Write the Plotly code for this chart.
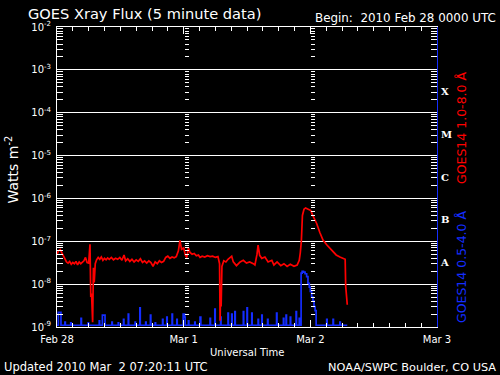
import plotly.graph_objects as go
import pandas as pd

# ---------------- data (hours after 2010-02-28 00:00 UTC, flux in W/m^2) ----------------
red_hours = [0.0, 0.3, 0.6, 0.9, 1.2, 1.5, 1.8, 2.1, 2.4, 2.7, 3.0, 3.3, 3.6, 3.9, 4.2, 4.5, 4.8,
             5.1, 5.4, 5.7, 6.0, 6.25, 6.4, 6.55, 6.75, 6.9, 7.05, 7.25, 7.5, 7.8, 8.1, 8.4, 8.7,
             9.0, 9.3, 9.6, 9.9, 10.3, 10.7, 11.1, 11.5, 11.9, 12.3, 12.7, 13.0, 13.4, 13.8, 14.2,
             14.6, 15.0, 15.4, 15.8, 16.2, 16.6, 17.0, 17.4, 17.8, 18.2, 18.6, 19.0, 19.4, 19.8,
             20.2, 20.6, 21.0, 21.4, 21.8, 22.2, 22.6, 23.0, 23.3, 23.6, 24.0, 24.3, 24.6, 24.9,
             25.2, 25.6, 26.0, 26.4, 26.8, 27.1, 27.5, 28.0, 28.5, 29.0, 29.5, 30.0, 30.5, 30.8,
             30.9, 31.0, 31.1, 31.25, 31.6, 32.0, 32.4, 32.8, 33.1, 33.4, 34.0, 34.7, 35.3, 35.9,
             36.5, 37.2, 37.5, 37.9, 38.1, 38.4, 38.8, 39.4, 40.0, 40.7, 41.1, 41.7, 42.4, 43.0,
             43.6, 44.2, 44.9, 45.5, 45.9, 46.1, 46.3, 46.5, 46.8, 47.1, 47.6, 48.1, 48.5, 49.2,
             49.8, 50.4, 51.1, 51.7, 52.3, 52.9, 53.6, 54.2, 54.6, 54.7, 55.0]
red_flux = [5.0e-8, 6.0e-8, 6.4e-8, 5.4e-8, 4.3e-8, 3.6e-8, 3.3e-8, 3.1e-8, 3.4e-8, 2.9e-8, 3.2e-8,
            3.0e-8, 3.4e-8, 2.8e-8, 3.3e-8, 3.0e-8, 3.3e-8, 3.5e-8, 4.2e-8, 3.2e-8, 3.1e-8, 8.5e-8,
            5.0e-9, 6.0e-9, 1.3e-9, 2.4e-8, 1.1e-8, 3.0e-8, 3.7e-8, 4.2e-8, 3.8e-8, 4.3e-8, 3.6e-8,
            4.0e-8, 3.7e-8, 4.1e-8, 3.8e-8, 4.2e-8, 3.7e-8, 4.0e-8, 3.8e-8, 4.2e-8, 3.6e-8, 4.8e-8,
            3.5e-8, 3.9e-8, 3.4e-8, 3.8e-8, 3.3e-8, 3.7e-8, 3.4e-8, 3.9e-8, 3.2e-8, 3.5e-8, 3.1e-8,
            3.5e-8, 3.2e-8, 2.6e-8, 3.3e-8, 3.0e-8, 3.5e-8, 3.2e-8, 3.4e-8, 4.2e-8, 4.5e-8, 4.0e-8,
            4.3e-8, 4.1e-8, 4.4e-8, 6.0e-8, 1.05e-7, 6.5e-8, 7.0e-8, 4.8e-8, 4.2e-8, 7.0e-8, 5.5e-8,
            5.0e-8, 5.2e-8, 4.6e-8, 4.8e-8, 4.2e-8, 4.5e-8, 4.3e-8, 4.6e-8, 4.4e-8, 4.5e-8, 4.2e-8,
            4.4e-8, 3.0e-8, 1.4e-9, 6.0e-9, 3.0e-9, 2.6e-8, 3.5e-8, 3.3e-8, 3.8e-8, 4.3e-8, 4.5e-8,
            3.3e-8, 2.7e-8, 3.3e-8, 3.6e-8, 3.1e-8, 3.3e-8, 3.0e-8, 2.8e-8, 5.0e-8, 8.1e-8, 4.7e-8,
            4.0e-8, 4.3e-8, 3.3e-8, 3.6e-8, 2.8e-8, 3.3e-8, 2.7e-8, 3.0e-8, 2.6e-8, 2.9e-8, 2.6e-8,
            2.8e-8, 3.6e-8, 5.4e-8, 1.0e-7, 4.0e-7, 5.6e-7, 6.0e-7, 5.7e-7, 5.2e-7, 3.9e-7, 2.6e-7,
            1.6e-7, 1.07e-7, 8.3e-8, 6.8e-8, 5.6e-8, 4.8e-8, 4.3e-8, 4.0e-8, 3.8e-8, 9.0e-9, 3.3e-9]

blue_hours = [0.0, 0.25, 0.75, 1.5, 1.58, 2.6, 2.68, 4.55, 4.63, 5.9, 5.98, 8.0, 8.08, 8.6, 9.1,
              10.4, 10.48, 11.6, 11.68, 12.6, 12.68, 13.5, 13.58, 14.8, 14.88, 15.7, 15.78, 16.8,
              16.88, 17.7, 17.78, 18.6, 18.68, 20.0, 20.08, 20.8, 20.88, 21.8, 21.88, 22.7, 22.78,
              23.9, 24.2, 24.28, 24.9, 24.98, 26.1, 26.18, 27.1, 27.25, 29.0, 29.08, 29.9, 29.98,
              31.0, 31.08, 32.4, 32.48, 33.1, 33.18, 33.7, 33.78, 35.3, 35.38, 36.0, 36.08, 36.9,
              36.98, 38.1, 38.18, 38.8, 38.88, 39.9, 39.98, 41.6, 41.68, 42.9, 42.98, 43.4, 43.48,
              44.2, 44.28, 45.3, 45.38, 45.9, 45.98, 46.25, 46.45, 46.7, 47.0, 47.3, 47.55, 47.8,
              48.0, 48.25, 48.5, 48.7, 48.9, 49.1, 51.1, 51.18, 52.3, 52.38, 53.6, 53.68, 55.0]
blue_flux = [1.1e-9, 2.2e-9, 1.1e-9, 1.3e-9, 1.1e-9, 1.25e-9, 1.1e-9, 1.6e-9, 1.1e-9, 1.25e-9, 1.1e-9,
             1.4e-9, 1.1e-9, 1.9e-9, 1.1e-9, 1.3e-9, 1.1e-9, 1.25e-9, 1.1e-9, 1.5e-9, 1.1e-9, 2.0e-9,
             1.1e-9, 1.3e-9, 1.1e-9, 2.8e-9, 1.1e-9, 1.3e-9, 1.1e-9, 1.9e-9, 1.1e-9, 1.25e-9, 1.1e-9,
             1.5e-9, 1.1e-9, 1.7e-9, 1.1e-9, 2.0e-9, 1.1e-9, 1.5e-9, 1.1e-9, 2.0e-9, 1.7e-9, 1.1e-9,
             1.4e-9, 1.1e-9, 1.3e-9, 1.1e-9, 1.7e-9, 1.1e-9, 1.6e-9, 1.1e-9, 2.6e-9, 1.1e-9, 1.7e-9,
             1.1e-9, 2.1e-9, 1.1e-9, 2.0e-9, 1.1e-9, 2.3e-9, 1.1e-9, 2.3e-9, 1.1e-9, 2.8e-9, 1.1e-9,
             2.1e-9, 1.1e-9, 1.5e-9, 1.1e-9, 1.9e-9, 1.1e-9, 1.5e-9, 1.1e-9, 2.1e-9, 1.1e-9, 1.6e-9,
             1.1e-9, 1.9e-9, 1.1e-9, 1.7e-9, 1.1e-9, 2.3e-9, 1.1e-9, 1.6e-9, 1.1e-9, 1.8e-8, 2.0e-8,
             1.9e-8, 1.75e-8, 1.5e-8, 1.05e-8, 8.5e-9, 6.8e-9, 5.0e-9, 4.0e-9, 3.0e-9, 2.4e-9, 1.1e-9,
             1.5e-9, 1.1e-9, 1.5e-9, 1.1e-9, 1.3e-9, 1.1e-9, 1.1e-9]

decade_exps = [-9, -8, -7, -6, -5, -4, -3, -2]
class_labels = ["A", "B", "C", "M", "X"]
class_exps = [-7.5, -6.5, -5.5, -4.5, -3.5]

title_text = "GOES Xray Flux (5 minute data)"
begin_text = "Begin:  2010 Feb 28 0000 UTC"
updated_text = "Updated 2010 Mar  2 07:20:11 UTC"
credit_text = "NOAA/SWPC Boulder, CO USA"
red_name = "GOES14 1.0-8.0 \u00c5"
blue_name = "GOES14 0.5-4.0 \u00c5"

# ---------------- figure ----------------
W, H = 500, 375
ML, MR, MT, MB = 57, 63, 27, 48
PW, PH = W - ML - MR, H - MT - MB


def xp(px):
    return (px - ML) / PW


def yp(py):
    return (H - MB - py) / PH


RED = "rgb(255,0,0)"
BLUE = "rgb(20,45,255)"
FONT = "DejaVu Sans"

start = pd.Timestamp("2010-02-28 00:00")
end = start + pd.Timedelta(days=3)
red_t = start + pd.to_timedelta(red_hours, unit="h")
blue_t = start + pd.to_timedelta(blue_hours, unit="h")

major_vals = [10.0 ** e for e in decade_exps]
minor_vals = [m * 10.0 ** e for e in decade_exps[:-1] for m in range(2, 10)]

fig = go.Figure()
fig.add_trace(go.Scatter(x=blue_t, y=blue_flux, mode="lines", line=dict(color=BLUE, width=1.7, shape="hv"),
                         hoverinfo="skip", showlegend=False))
fig.add_trace(go.Scatter(x=red_t, y=red_flux, mode="lines", line=dict(color=RED, width=1.7),
                         hoverinfo="skip", showlegend=False))
# invisible anchors so every overlay axis is drawn
for ax in ["y2", "y3", "y4", "y5", "y6"]:
    fig.add_trace(go.Scatter(x=[start], y=[major_vals[0]], yaxis=ax, mode="markers",
                             marker=dict(opacity=0), hoverinfo="skip", showlegend=False))

common_y = dict(type="log", range=[-9, -2], showgrid=False, zeroline=False, fixedrange=True,
                automargin=False)
tick_style = dict(ticks="inside", ticklen=6, tickwidth=1, tickcolor="white", tickvals=minor_vals,
                  showticklabels=False)

fig.update_layout(
    width=W, height=H,
    margin=dict(l=ML, r=MR, t=MT, b=MB, pad=0),
    paper_bgcolor="black", plot_bgcolor="black",
    showlegend=False,
    xaxis=dict(type="date", range=[start, end], tick0=start, dtick=86400000, tickformat="%b %-d",
               ticks="inside", ticklen=7, tickwidth=1, tickcolor="white", automargin=False,
               showline=True, linecolor="white", linewidth=1, mirror="ticks",
               showgrid=False, zeroline=False, ticklabelstandoff=3, fixedrange=True,
               tickfont=dict(family=FONT, size=10, color="white"),
               minor=dict(dtick=3 * 3600000, ticks="inside", ticklen=4, tickcolor="white",
                          tickwidth=1, showgrid=False)),
    yaxis=dict(**{**common_y, "showgrid": True}, gridcolor="white", gridwidth=1,
               tickvals=major_vals, ticktext=[f"10<sup>{e}</sup>" for e in decade_exps],
               ticks="", showline=True, linecolor="white", linewidth=1,
               ticklabelstandoff=3, tickfont=dict(family=FONT, size=10, color="white")),
    yaxis2=dict(**common_y, **tick_style, overlaying="y", side="left", anchor="x", showline=False),
    yaxis3=dict(**common_y, **tick_style, overlaying="y", side="right", anchor="x",
                showline=True, linecolor=BLUE, linewidth=1),
    yaxis4=dict(**common_y, overlaying="y", side="right", anchor="x", showline=False,
                tickvals=[10.0 ** e for e in class_exps], ticktext=class_labels, ticks="",
                ticklabelstandoff=3,
                tickfont=dict(family="DejaVu Serif", size=10, color="white", weight="bold")),
    yaxis5=dict(**common_y, **{**tick_style, "ticklen": 4}, overlaying="y", side="left",
                anchor="free", position=1 / 3, showline=False),
    yaxis6=dict(**common_y, **{**tick_style, "ticklen": 4}, overlaying="y", side="left",
                anchor="free", position=2 / 3, showline=False),
)

ann = dict(xref="paper", yref="paper", showarrow=False)
fig.add_annotation(**ann, x=xp(26), y=yp(13), xanchor="left", yanchor="middle", text=title_text,
                   font=dict(family=FONT, size=14.6, color="white"))
fig.add_annotation(**ann, x=xp(498), y=yp(18), xanchor="right", yanchor="middle", text=begin_text,
                   font=dict(family=FONT, size=11.9, color="white"))
fig.add_annotation(**ann, x=xp(2), y=yp(367), xanchor="left", yanchor="middle", text=updated_text,
                   font=dict(family=FONT, size=11.5, color="white"))
fig.add_annotation(**ann, x=xp(498), y=yp(367), xanchor="right", yanchor="middle", text=credit_text,
                   font=dict(family=FONT, size=11.3, color="white"))
fig.add_annotation(**ann, x=0.5, y=yp(352), xanchor="center", yanchor="middle", text="Universal Time",
                   font=dict(family=FONT, size=10, color="white"))
fig.add_annotation(**ann, x=xp(12.5), y=yp(170), xanchor="center", yanchor="middle", textangle=-90,
                   text="Watts m<sup>-2</sup>", font=dict(family=FONT, size=14, color="white"))
fig.add_annotation(**ann, x=xp(461), y=yp(128), xanchor="center", yanchor="middle", textangle=-90,
                   text=red_name, font=dict(family=FONT, size=12.5, color=RED))
fig.add_annotation(**ann, x=xp(461), y=yp(267), xanchor="center", yanchor="middle", textangle=-90,
                   text=blue_name, font=dict(family=FONT, size=12.5, color=BLUE))

fig.write_html("out.html", config={"displayModeBar": False, "staticPlot": True},
               post_script="document.body.style.margin='0';")
